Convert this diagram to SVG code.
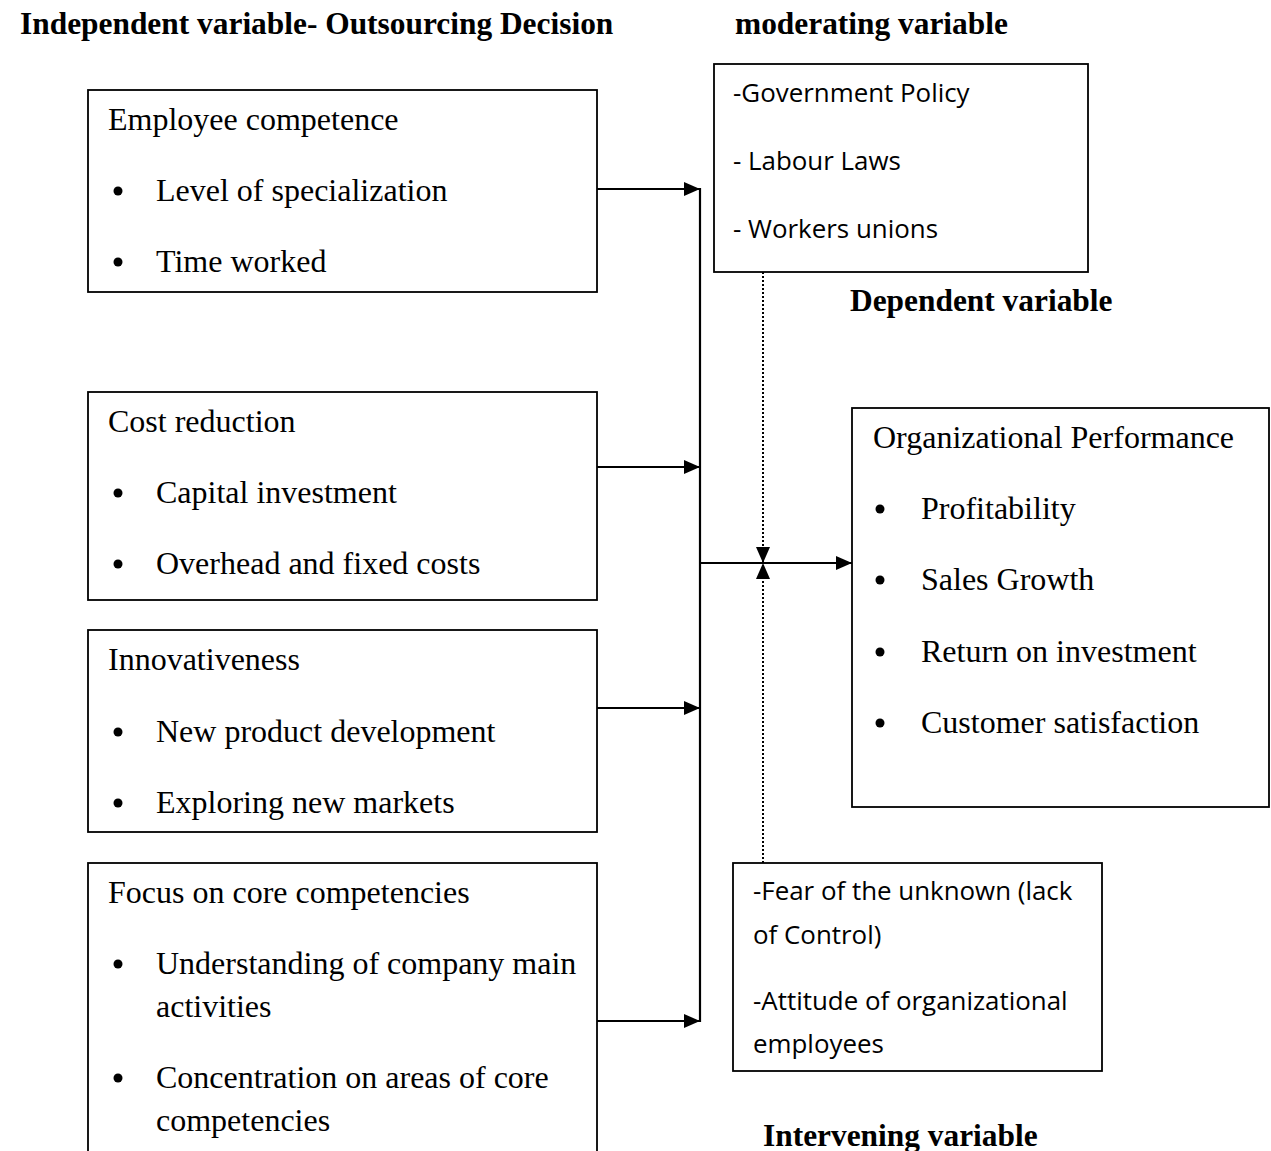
<svg xmlns="http://www.w3.org/2000/svg" width="1271" height="1151" viewBox="0 0 1271 1151">
<style>
.box{fill:#fff;stroke:#000;stroke-width:1.8}
.t{font-family:"Liberation Serif","Times New Roman",serif;font-size:32px;fill:#000}
.h{font-family:"Liberation Serif","Times New Roman",serif;font-size:31.4px;font-weight:bold;fill:#000}
.s{font-family:"Open Sans","Noto Sans",sans-serif;font-size:25.9px;fill:#000}
.ln{stroke:#000;stroke-width:2.2;fill:none}
.dot{stroke:#000;stroke-width:2;fill:none;stroke-dasharray:2 2}
</style>
<defs>
<marker id="ah" markerWidth="16" markerHeight="14" refX="16" refY="7" orient="auto" markerUnits="userSpaceOnUse">
<path d="M0,0 L16,7 L0,14 Z" fill="#000"/>
</marker>
</defs>
<rect width="1271" height="1151" fill="#fff"/>
<text class="h" x="20" y="34">Independent variable- Outsourcing Decision</text>
<text class="h" x="735" y="34">moderating variable</text>
<text class="h" x="850" y="311">Dependent variable</text>
<text class="h" x="763" y="1146">Intervening variable</text>

<g id="employee-competence">
<rect class="box" x="88" y="90" width="509" height="202"/>
<text class="t" x="108" y="130">Employee competence</text>
<circle cx="118" cy="191" r="4.5"/>
<text class="t" x="156" y="201">Level of specialization</text>
<circle cx="118" cy="262" r="4.5"/>
<text class="t" x="156" y="272">Time worked</text>
</g>
<g id="cost-reduction">
<rect class="box" x="88" y="392" width="509" height="208"/>
<text class="t" x="108" y="432">Cost reduction</text>
<circle cx="118" cy="493" r="4.5"/>
<text class="t" x="156" y="503">Capital investment</text>
<circle cx="118" cy="564" r="4.5"/>
<text class="t" x="156" y="574">Overhead and fixed costs</text>
</g>
<g id="innovativeness">
<rect class="box" x="88" y="630" width="509" height="202"/>
<text class="t" x="108" y="670">Innovativeness</text>
<circle cx="118" cy="732" r="4.5"/>
<text class="t" x="156" y="742">New product development</text>
<circle cx="118" cy="803" r="4.5"/>
<text class="t" x="156" y="813">Exploring new markets</text>
</g>
<g id="core-competencies">
<rect class="box" x="88" y="863" width="509" height="300"/>
<text class="t" x="108" y="903">Focus on core competencies</text>
<circle cx="118" cy="964" r="4.5"/>
<text class="t" x="156" y="974">Understanding of company main</text>
<text class="t" x="156" y="1017">activities</text>
<circle cx="118" cy="1078" r="4.5"/>
<text class="t" x="156" y="1088">Concentration on areas of core</text>
<text class="t" x="156" y="1131">competencies</text>
</g>
<g id="moderating">
<rect class="box" x="714" y="64" width="374" height="208"/>
<text class="s" x="733" y="102">-Government Policy</text>
<text class="s" x="733" y="170">- Labour Laws</text>
<text class="s" x="733" y="238">- Workers unions</text>
</g>
<g id="performance">
<rect class="box" x="852" y="408" width="417" height="399"/>
<text class="t" x="873" y="448">Organizational Performance</text>
<circle cx="880" cy="509" r="4.5"/>
<text class="t" x="921" y="519">Profitability</text>
<circle cx="880" cy="580" r="4.5"/>
<text class="t" x="921" y="590">Sales Growth</text>
<circle cx="880" cy="652" r="4.5"/>
<text class="t" x="921" y="662">Return on investment</text>
<circle cx="880" cy="723" r="4.5"/>
<text class="t" x="921" y="733">Customer satisfaction</text>
</g>
<g id="intervening">
<rect class="box" x="733" y="863" width="369" height="208"/>
<text class="s" x="753" y="900">-Fear of the unknown (lack</text>
<text class="s" x="753" y="944">of Control)</text>
<text class="s" x="753" y="1010">-Attitude of organizational</text>
<text class="s" x="753" y="1053">employees</text>
</g>
<g id="connectors">
<line class="ln" x1="597" y1="189" x2="700" y2="189" marker-end="url(#ah)"/>
<line class="ln" x1="597" y1="467" x2="700" y2="467" marker-end="url(#ah)"/>
<line class="ln" x1="597" y1="708" x2="700" y2="708" marker-end="url(#ah)"/>
<line class="ln" x1="597" y1="1021" x2="700" y2="1021" marker-end="url(#ah)"/>
<line class="ln" x1="700" y1="188" x2="700" y2="1022"/>
<line class="ln" x1="700" y1="563" x2="852" y2="563" marker-end="url(#ah)"/>
<line class="dot" x1="763" y1="272" x2="763" y2="563" marker-end="url(#ah)"/>
<line class="dot" x1="763" y1="863" x2="763" y2="563" marker-end="url(#ah)"/>
</g>
</svg>
